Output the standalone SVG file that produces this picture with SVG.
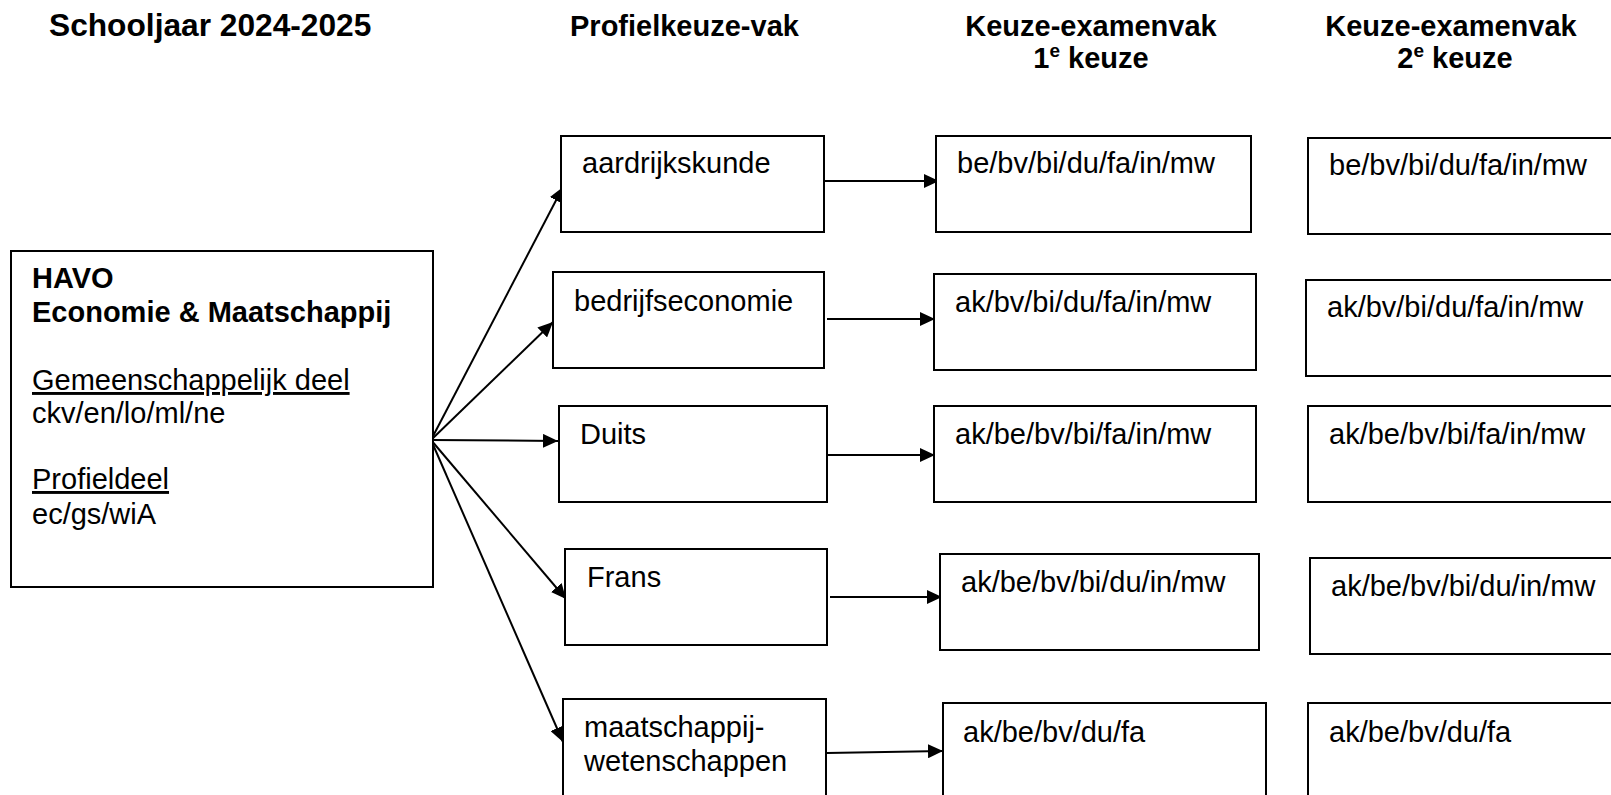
<svg xmlns="http://www.w3.org/2000/svg" width="1611" height="795" viewBox="0 0 1611 795">
<style>
text{font-family:"Liberation Sans",Arial,sans-serif;font-size:29px;fill:#000}
.h{font-weight:bold}
.box{fill:#fff;stroke:#000;stroke-width:2}
.con{stroke:#000;stroke-width:2;fill:none;marker-end:url(#arr)}
.u{text-decoration:underline}
</style>
<defs>
<marker id="arr" markerUnits="userSpaceOnUse" markerWidth="16" markerHeight="14" refX="15" refY="7" orient="auto">
<path d="M0,0 L15,7 L0,14 z" fill="#000"/>
</marker>
</defs>
<rect width="1611" height="795" fill="#fff"/>
<g id="headers">
<text class="h" x="49" y="36" style="font-size:31.7px">Schooljaar 2024-2025</text>
<text class="h" x="570" y="36">Profielkeuze-vak</text>
<text class="h" x="1091" y="36" text-anchor="middle">Keuze-examenvak</text>
<text class="h" x="1091" y="68" text-anchor="middle">1<tspan font-size="19" dy="-11">e</tspan><tspan dy="11"> keuze</tspan></text>
<text class="h" x="1451" y="36" text-anchor="middle">Keuze-examenvak</text>
<text class="h" x="1455" y="68" text-anchor="middle">2<tspan font-size="19" dy="-11">e</tspan><tspan dy="11"> keuze</tspan></text>
</g>
<g id="connectors">
<line class="con" x1="431" y1="440" x2="563" y2="187"/>
<line class="con" x1="431" y1="440" x2="553" y2="322"/>
<line class="con" x1="431" y1="440" x2="558" y2="441"/>
<line class="con" x1="431" y1="440" x2="566" y2="599"/>
<line class="con" x1="431" y1="440" x2="563" y2="742"/>
<line class="con" x1="822" y1="181" x2="939" y2="181"/>
<line class="con" x1="827" y1="319" x2="935" y2="319"/>
<line class="con" x1="827" y1="455" x2="935" y2="455"/>
<line class="con" x1="830" y1="597" x2="942" y2="597"/>
<line class="con" x1="827" y1="753" x2="943" y2="751"/>
</g>
<g id="havo">
<rect class="box" x="11" y="251" width="422" height="336"/>
<text class="h" x="32" y="288">HAVO</text>
<text class="h" x="32" y="322">Economie &amp; Maatschappij</text>
<text class="u" x="32" y="390">Gemeenschappelijk deel</text>
<text x="32" y="423">ckv/en/lo/ml/ne</text>
<text class="u" x="32" y="489">Profieldeel</text>
<text x="32" y="524">ec/gs/wiA</text>
</g>
<g id="ak"><rect class="box" x="561" y="136" width="263" height="96"/><text x="582" y="173">aardrijkskunde</text></g>
<g id="be"><rect class="box" x="553" y="272" width="271" height="96"/><text x="574" y="311">bedrijfseconomie</text></g>
<g id="du"><rect class="box" x="559" y="406" width="268" height="96"/><text x="580" y="444">Duits</text></g>
<g id="fa"><rect class="box" x="565" y="549" width="262" height="96"/><text x="587" y="587">Frans</text></g>
<g id="mw"><rect class="box" x="563" y="699" width="263" height="110"/><text x="584" y="737">maatschappij-</text><text x="584" y="771">wetenschappen</text></g>
<g id="k1-ak"><rect class="box" x="936" y="136" width="315" height="96"/><text x="957" y="173">be/bv/bi/du/fa/in/mw</text></g>
<g id="k1-be"><rect class="box" x="934" y="274" width="322" height="96"/><text x="955" y="312">ak/bv/bi/du/fa/in/mw</text></g>
<g id="k1-du"><rect class="box" x="934" y="406" width="322" height="96"/><text x="955" y="444">ak/be/bv/bi/fa/in/mw</text></g>
<g id="k1-fa"><rect class="box" x="940" y="554" width="319" height="96"/><text x="961" y="592">ak/be/bv/bi/du/in/mw</text></g>
<g id="k1-mw"><rect class="box" x="943" y="703" width="323" height="110"/><text x="963" y="742">ak/be/bv/du/fa</text></g>
<g id="k2-ak"><rect class="box" x="1308" y="138" width="330" height="96"/><text x="1329" y="175">be/bv/bi/du/fa/in/mw</text></g>
<g id="k2-be"><rect class="box" x="1306" y="280" width="330" height="96"/><text x="1327" y="317">ak/bv/bi/du/fa/in/mw</text></g>
<g id="k2-du"><rect class="box" x="1308" y="406" width="330" height="96"/><text x="1329" y="444">ak/be/bv/bi/fa/in/mw</text></g>
<g id="k2-fa"><rect class="box" x="1310" y="558" width="330" height="96"/><text x="1331" y="596">ak/be/bv/bi/du/in/mw</text></g>
<g id="k2-mw"><rect class="box" x="1308" y="703" width="330" height="110"/><text x="1329" y="742">ak/be/bv/du/fa</text></g>
</svg>
